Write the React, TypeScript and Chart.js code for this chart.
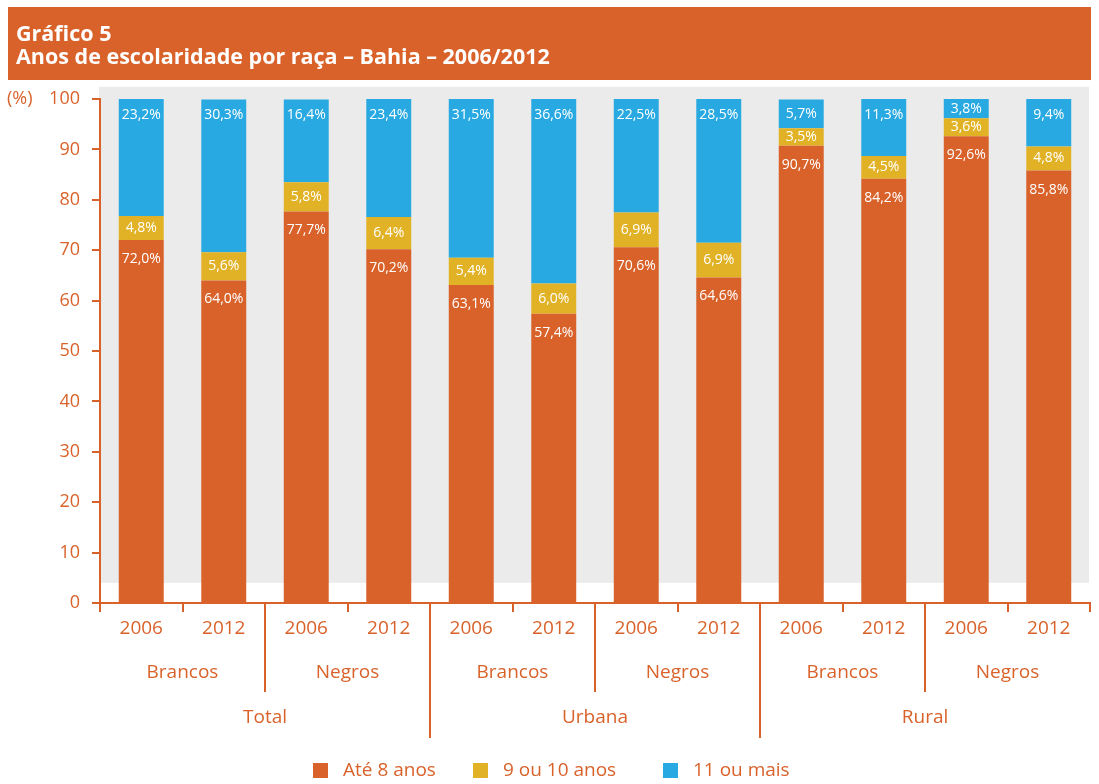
import React, { useEffect, useRef } from "react";
import { Chart, registerables } from "chart.js";

Chart.register(...registerables);

const years = ["2006", "2012", "2006", "2012", "2006", "2012", "2006", "2012", "2006", "2012", "2006", "2012"];
const races = ["Brancos", "Negros", "Brancos", "Negros", "Brancos", "Negros"];
const areas = ["Total", "Urbana", "Rural"];
const ate8 = [72.0, 64.0, 77.7, 70.2, 63.1, 57.4, 70.6, 64.6, 90.7, 84.2, 92.6, 85.8];
const nove10 = [4.8, 5.6, 5.8, 6.4, 5.4, 6.0, 6.9, 6.9, 3.5, 4.5, 3.6, 4.8];
const onzeMais = [23.2, 30.3, 16.4, 23.4, 31.5, 36.6, 22.5, 28.5, 5.7, 11.3, 3.8, 9.4];
const seriesNames = ["Até 8 anos", "9 ou 10 anos", "11 ou mais"];
const titleLines = ["Gráfico 5", "Anos de escolaridade por raça – Bahia – 2006/2012"];
const yUnit = "(%)";

const ORANGE = "#D9622A";
const YELLOW = "#E2B226";
const BLUE = "#29A9E1";
const GRAY = "#EBEBEB";
const FONT = "'Open Sans', 'Noto Sans', sans-serif";

const fmt = (v: number) => v.toFixed(1).replace(".", ",") + "%";

const decorPlugin = {
  id: "decor",
  beforeDraw(chart: any) {
    const { ctx, chartArea, scales } = chart;
    const y = scales.y;
    ctx.save();
    ctx.fillStyle = "#ffffff";
    ctx.fillRect(0, 0, chart.width, chart.height);
    // banner
    ctx.fillStyle = ORANGE;
    ctx.fillRect(8, 7, 1083, 73);
    ctx.fillStyle = "#ffffff";
    ctx.font = `bold 21.5px ${FONT}`;
    ctx.textBaseline = "alphabetic";
    ctx.textAlign = "left";
    ctx.fillText(titleLines[0], 16, 41);
    ctx.fillText(titleLines[1], 16, 64);
    // gray plot background
    ctx.fillStyle = GRAY;
    const top = y.getPixelForValue(102.4);
    const bot = y.getPixelForValue(4);
    ctx.fillRect(chartArea.left - 1, top, chartArea.right - chartArea.left, bot - top);
    // unit
    ctx.fillStyle = ORANGE;
    ctx.font = `18px ${FONT}`;
    ctx.textBaseline = "middle";
    ctx.fillText(yUnit, 7, y.getPixelForValue(100));
    ctx.restore();
  },
  afterDatasetsDraw(chart: any) {
    const { ctx } = chart;
    ctx.save();
    ctx.font = `14px ${FONT}`;
    ctx.fillStyle = "#ffffff";
    ctx.textAlign = "center";
    ctx.textBaseline = "middle";
    chart.data.datasets.forEach((ds: any, di: number) => {
      const meta = chart.getDatasetMeta(di);
      meta.data.forEach((bar: any, i: number) => {
        const v = ds.data[i];
        const topY = Math.min(bar.y, bar.base);
        const botY = Math.max(bar.y, bar.base);
        const mid = (topY + botY) / 2;
        let ty;
        if (di === 1) ty = mid;
        else if (di === 2) ty = Math.min(topY + 16, mid);
        else ty = topY + 19;
        ctx.fillText(fmt(v), bar.x, ty);
      });
    });
    ctx.restore();
  },
  afterDraw(chart: any) {
    const { ctx, chartArea, scales } = chart;
    const x = scales.x;
    const n = years.length;
    const base = chartArea.bottom;
    const boundary = (i: number) => {
      if (i === 0) return chartArea.left;
      if (i === n) return chartArea.right;
      return (x.getPixelForValue(i - 1) + x.getPixelForValue(i)) / 2;
    };
    ctx.save();
    ctx.strokeStyle = ORANGE;
    ctx.lineWidth = 2;
    for (let i = 0; i <= n; i++) {
      let len = 9;
      if (i > 0 && i < n) {
        if (i % 4 === 0) len = 135;
        else if (i % 2 === 0) len = 89;
      }
      const px = Math.round(boundary(i));
      ctx.beginPath();
      ctx.moveTo(px, base - 1);
      ctx.lineTo(px, base + len);
      ctx.stroke();
    }
    ctx.fillStyle = ORANGE;
    ctx.font = `19px ${FONT}`;
    ctx.textAlign = "center";
    ctx.textBaseline = "middle";
    races.forEach((r, k) => {
      const cx = (x.getPixelForValue(2 * k) + x.getPixelForValue(2 * k + 1)) / 2;
      ctx.fillText(r, cx, base + 70);
    });
    areas.forEach((a, k) => {
      const cx = (boundary(4 * k) + boundary(4 * k + 4)) / 2;
      ctx.fillText(a, cx, base + 115);
    });
    // legend
    const colors = [ORANGE, YELLOW, BLUE];
    const sx = [313, 473, 663];
    seriesNames.forEach((name, k) => {
      ctx.fillStyle = colors[k];
      ctx.fillRect(sx[k], 763, 15, 15);
      ctx.fillStyle = ORANGE;
      ctx.textAlign = "left";
      ctx.fillText(name, sx[k] + 30, 771);
    });
    ctx.restore();
  },
};

export default function App() {
  const ref = useRef<HTMLCanvasElement | null>(null);
  useEffect(() => {
    document.body.style.margin = "0";
    const canvas = ref.current!;
    const chart = new Chart(canvas, {
      type: "bar",
      data: {
        labels: years,
        datasets: [
          { label: seriesNames[0], data: ate8, backgroundColor: ORANGE },
          { label: seriesNames[1], data: nove10, backgroundColor: YELLOW },
          { label: seriesNames[2], data: onzeMais, backgroundColor: BLUE },
        ],
      },
      options: {
        animation: false,
        responsive: false,
        maintainAspectRatio: false,
        devicePixelRatio: 1,
        layout: { padding: { top: 99, left: 0, right: 9, bottom: 0 } },
        datasets: { bar: { barPercentage: 0.545, categoryPercentage: 1 } },
        plugins: { legend: { display: false }, tooltip: { enabled: false }, title: { display: false } },
        scales: {
          x: {
            stacked: true,
            grid: { display: false, drawTicks: false },
            border: { display: true, color: ORANGE, width: 2 },
            ticks: { color: ORANGE, font: { family: FONT, size: 19 }, padding: 14, maxRotation: 0, autoSkip: false },
            afterFit: (s: any) => { s.height = 181; },
          },
          y: {
            stacked: true,
            min: 0,
            max: 100,
            grid: { display: true, drawOnChartArea: false, drawTicks: true, tickLength: 8, color: ORANGE, lineWidth: 2 },
            border: { display: true, color: ORANGE, width: 2 },
            ticks: { stepSize: 10, color: ORANGE, font: { family: FONT, size: 18 }, padding: 12 },
            afterFit: (s: any) => { s.width = 100; },
          },
        },
      },
      plugins: [decorPlugin],
    } as any);
    return () => chart.destroy();
  }, []);
  return <canvas ref={ref} width={1099} height={784} style={{ display: "block" }} />;
}
